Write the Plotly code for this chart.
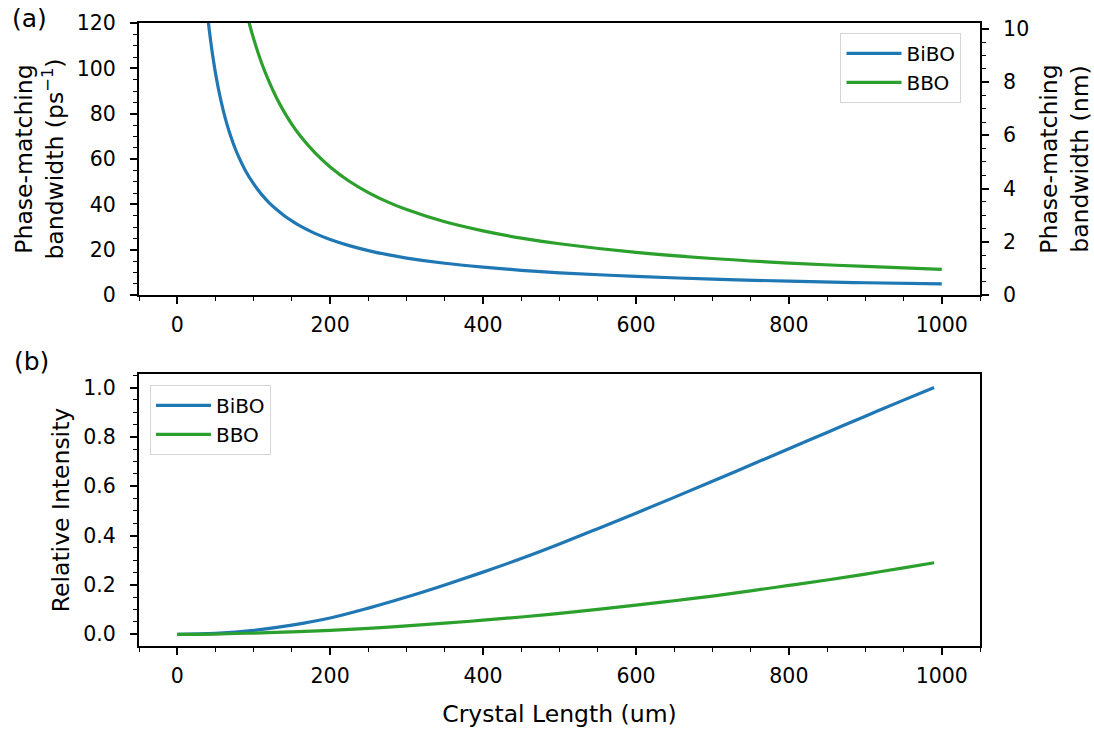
import plotly.graph_objects as go

# Phase-matching bandwidth (ps^-1) versus crystal length (um)
bw_len_bibo = [40, 42, 44, 46, 48, 50, 55, 60, 65, 70, 75, 80, 90, 100, 110,
               120, 130, 140, 150, 160, 180, 200, 225, 250, 275, 300, 350,
               400, 450, 500, 600, 700, 800, 900, 1000]
bw_bibo = [122.5, 116.7, 111.4, 106.5, 102.1, 98.0, 89.1, 81.7, 75.4, 70.0,
           65.3, 61.3, 54.4, 49.0, 44.5, 40.8, 37.7, 35.0, 32.7, 30.6, 27.2,
           24.5, 21.8, 19.6, 17.8, 16.3, 14.0, 12.3, 10.9, 9.8, 8.2, 7.0, 6.1,
           5.4, 4.9]

bw_len_bbo = [90, 95, 100, 110, 120, 130, 140, 150, 160, 180, 200, 225, 250,
              275, 300, 350, 400, 450, 500, 600, 700, 800, 900, 1000]
bw_bbo = [125.6, 118.9, 113.0, 102.7, 94.2, 86.9, 80.7, 75.3, 70.6, 62.8, 56.5,
          50.2, 45.2, 41.1, 37.7, 32.3, 28.3, 25.1, 22.6, 18.8, 16.1, 14.1,
          12.6, 11.3]

# Relative SHG intensity versus crystal length (um)
int_len = [0, 50, 100, 150, 200, 250, 300, 350, 400, 450, 500, 550, 600, 650,
           700, 750, 800, 850, 900, 950, 990]
int_bibo = [0, 0.004, 0.016, 0.037, 0.066, 0.106, 0.151, 0.200, 0.252, 0.307,
            0.366, 0.428, 0.491, 0.555, 0.620, 0.686, 0.752, 0.818, 0.884,
            0.949, 1.0]
int_bbo = [0, 0.001, 0.005, 0.010, 0.016, 0.024, 0.034, 0.045, 0.057, 0.070,
           0.085, 0.101, 0.118, 0.136, 0.155, 0.176, 0.198, 0.220, 0.244,
           0.269, 0.290]

# Secondary scale of the top panel (nm)
nm_range = [0, 10.22]

BLUE = "#1f77b4"
GREEN = "#2ca02c"
FONT = "DejaVu Sans"

fig = go.Figure()

fig.add_trace(go.Scatter(x=bw_len_bibo, y=bw_bibo, name="BiBO", mode="lines",
                         line=dict(color=BLUE, width=3.2, shape="spline"),
                         xaxis="x", yaxis="y", legend="legend"))
fig.add_trace(go.Scatter(x=bw_len_bbo, y=bw_bbo, name="BBO", mode="lines",
                         line=dict(color=GREEN, width=3.2, shape="spline"),
                         xaxis="x", yaxis="y", legend="legend"))
# anchor trace so the nm axis is rendered
fig.add_trace(go.Scatter(x=[500], y=[5], mode="markers", marker=dict(opacity=0),
                         showlegend=False, hoverinfo="skip",
                         xaxis="x", yaxis="y3"))

fig.add_trace(go.Scatter(x=int_len, y=int_bibo, name="BiBO", mode="lines",
                         line=dict(color=BLUE, width=3.2, shape="spline"),
                         xaxis="x2", yaxis="y2", legend="legend2"))
fig.add_trace(go.Scatter(x=int_len, y=int_bbo, name="BBO", mode="lines",
                         line=dict(color=GREEN, width=3.2, shape="spline"),
                         xaxis="x2", yaxis="y2", legend="legend2"))

tick_font = dict(family=FONT, size=20.5, color="black")
title_font = dict(family=FONT, size=23.5, color="black")

axis_common = dict(
    showline=True, linecolor="black", linewidth=2,
    ticks="outside", ticklen=7, tickwidth=1.5, tickcolor="black",
    tickfont=tick_font, showgrid=False, zeroline=False, automargin=False,
)

x_common = dict(axis_common, range=[-50, 1050], dtick=200, tick0=0, mirror=True,
                ticklabelstandoff=3,
                minor=dict(ticks="outside", ticklen=4, tickwidth=1,
                           tickcolor="black", dtick=50, tick0=0))

legend_common = dict(
    bgcolor="rgba(255,255,255,0.8)", bordercolor="#d5d5d5", borderwidth=1,
    font=dict(family=FONT, size=20, color="black"),
    tracegroupgap=0, itemwidth=55,
)

fig.update_layout(
    width=1094, height=730,
    margin=dict(l=139, r=114, t=23, b=84),
    paper_bgcolor="white", plot_bgcolor="white",
    font=dict(family=FONT, color="black"),
    xaxis=dict(x_common, domain=[0, 1], anchor="y"),
    yaxis=dict(axis_common, domain=[0.5634, 1], range=[0, 120], dtick=20,
               mirror=True, anchor="x", ticklabelstandoff=10,
               title=dict(text="Phase-matching<br>bandwidth (ps<sup>−1</sup>)",
                          font=title_font, standoff=7),
               minor=dict(ticks="outside", ticklen=4, tickwidth=1,
                          tickcolor="black", dtick=5, tick0=0)),
    yaxis3=dict(axis_common, overlaying="y", side="right", anchor="x",
                range=nm_range, dtick=2, tick0=0, ticklabelstandoff=10,
                title=dict(text="Phase-matching<br>bandwidth (nm)",
                           font=title_font, standoff=14),
                minor=dict(ticks="outside", ticklen=4, tickwidth=1,
                           tickcolor="black", dtick=0.5, tick0=0)),
    xaxis2=dict(x_common, domain=[0, 1], anchor="y2",
                title=dict(text="Crystal Length (um)", font=title_font,
                           standoff=19)),
    yaxis2=dict(axis_common, domain=[0, 0.4366], range=[-0.0475, 1.055],
                dtick=0.2, tick0=0, tickformat=".1f", mirror=True, anchor="x2",
                ticklabelstandoff=10,
                title=dict(text="Relative Intensity", font=title_font,
                           standoff=7),
                minor=dict(ticks="outside", ticklen=4, tickwidth=1,
                           tickcolor="black", dtick=0.05, tick0=0)),
    legend=dict(legend_common, x=0.978, y=0.984, xanchor="right",
                yanchor="top"),
    legend2=dict(legend_common, x=0.0131, y=0.419, xanchor="left",
                 yanchor="top"),
    annotations=[
        dict(text="(a)", xref="paper", yref="paper", x=-0.153, y=1.008,
             xanchor="left", yanchor="middle", showarrow=False,
             font=dict(family=FONT, size=25, color="black")),
        dict(text="(b)", xref="paper", yref="paper", x=-0.151, y=0.456,
             xanchor="left", yanchor="middle", showarrow=False,
             font=dict(family=FONT, size=25, color="black")),
    ],
)

fig.write_html("out.html")
